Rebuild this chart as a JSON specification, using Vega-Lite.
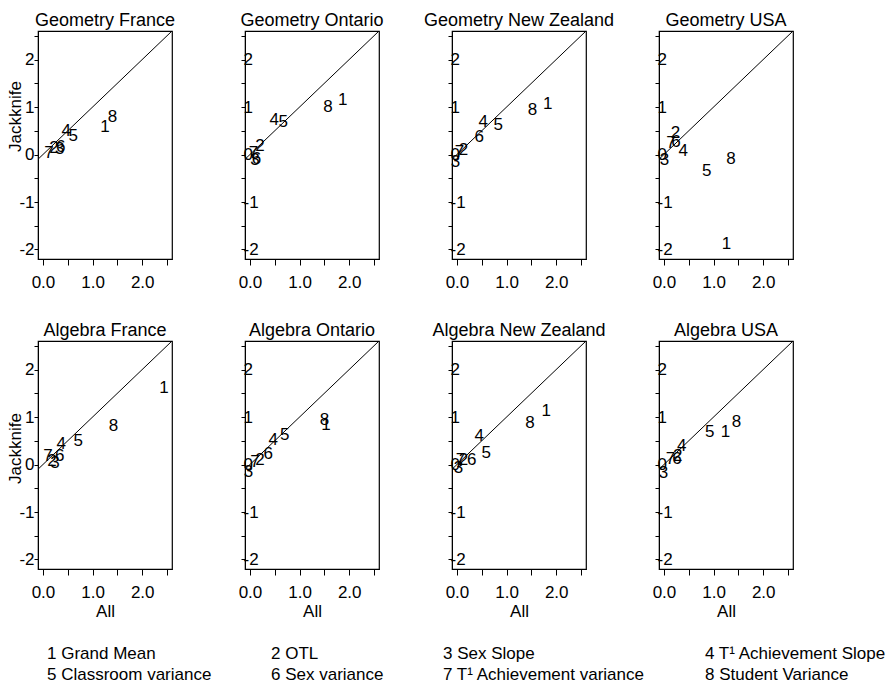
{
  "$schema": "https://vega.github.io/schema/vega-lite/v6.json",
  "padding": {"left": 5, "top": 11, "right": 0, "bottom": 0},
  "background": "white",
  "config": {
    "font": "Liberation Sans",
    "view": {"stroke": "black", "strokeWidth": 1.2},
    "axis": {"grid": false, "domainColor": "black", "tickColor": "black", "labelColor": "black", "titleColor": "black", "labelFontSize": 17, "titleFontSize": 17, "titleFontWeight": "normal", "labelFont": "Liberation Sans", "titleFont": "Liberation Sans", "labelOverlap": false, "labelFlush": false},
    "title": {"fontSize": 18, "fontWeight": "normal", "color": "black", "offset": -3, "font": "Liberation Sans", "anchor": "middle"},
    "text": {"fontSize": 17, "font": "Liberation Sans"},
    "legend": {"title": null, "orient": "none", "legendX": -8, "legendY": 614, "direction": "horizontal", "columns": 4, "symbolSize": 0, "symbolOpacity": 0, "symbolStrokeWidth": 0, "labelOffset": 0, "labelFontSize": 17, "labelColor": "black", "labelFont": "Liberation Sans", "columnPadding": 42, "rowPadding": 3, "labelLimit": 400}
  },
  "datasets": {
    "pts": [
      {"panel": "Geometry France", "k": "1", "comp": "1 Grand Mean", "x": 1.25, "y": 0.58},
      {"panel": "Geometry France", "k": "2", "comp": "2 OTL", "x": 0.22, "y": 0.14},
      {"panel": "Geometry France", "k": "3", "comp": "3 Sex Slope", "x": 0.34, "y": 0.12},
      {"panel": "Geometry France", "k": "4", "comp": "4 T¹ Achievement Slope", "x": 0.47, "y": 0.49},
      {"panel": "Geometry France", "k": "5", "comp": "5 Classroom variance", "x": 0.61, "y": 0.39},
      {"panel": "Geometry France", "k": "6", "comp": "6 Sex variance", "x": 0.36, "y": 0.16},
      {"panel": "Geometry France", "k": "7", "comp": "7 T¹ Achievement variance", "x": 0.12, "y": 0.04},
      {"panel": "Geometry France", "k": "8", "comp": "8 Student Variance", "x": 1.40, "y": 0.80},
      {"panel": "Geometry Ontario", "k": "1", "comp": "1 Grand Mean", "x": 1.87, "y": 1.15},
      {"panel": "Geometry Ontario", "k": "2", "comp": "2 OTL", "x": 0.20, "y": 0.17},
      {"panel": "Geometry Ontario", "k": "3", "comp": "3 Sex Slope", "x": 0.10, "y": -0.12},
      {"panel": "Geometry Ontario", "k": "4", "comp": "4 T¹ Achievement Slope", "x": 0.49, "y": 0.73},
      {"panel": "Geometry Ontario", "k": "5", "comp": "5 Classroom variance", "x": 0.67, "y": 0.69},
      {"panel": "Geometry Ontario", "k": "6", "comp": "6 Sex variance", "x": 0.13, "y": -0.10},
      {"panel": "Geometry Ontario", "k": "7", "comp": "7 T¹ Achievement variance", "x": 0.07, "y": 0.03},
      {"panel": "Geometry Ontario", "k": "8", "comp": "8 Student Variance", "x": 1.57, "y": 1.01},
      {"panel": "Geometry New Zealand", "k": "1", "comp": "1 Grand Mean", "x": 1.83, "y": 1.07},
      {"panel": "Geometry New Zealand", "k": "2", "comp": "2 OTL", "x": 0.13, "y": 0.09},
      {"panel": "Geometry New Zealand", "k": "3", "comp": "3 Sex Slope", "x": -0.03, "y": -0.16},
      {"panel": "Geometry New Zealand", "k": "4", "comp": "4 T¹ Achievement Slope", "x": 0.53, "y": 0.69},
      {"panel": "Geometry New Zealand", "k": "5", "comp": "5 Classroom variance", "x": 0.83, "y": 0.62},
      {"panel": "Geometry New Zealand", "k": "6", "comp": "6 Sex variance", "x": 0.45, "y": 0.37},
      {"panel": "Geometry New Zealand", "k": "7", "comp": "7 T¹ Achievement variance", "x": 0.05, "y": 0.05},
      {"panel": "Geometry New Zealand", "k": "8", "comp": "8 Student Variance", "x": 1.52, "y": 0.93},
      {"panel": "Geometry USA", "k": "1", "comp": "1 Grand Mean", "x": 1.26, "y": -1.89},
      {"panel": "Geometry USA", "k": "2", "comp": "2 OTL", "x": 0.23, "y": 0.45},
      {"panel": "Geometry USA", "k": "3", "comp": "3 Sex Slope", "x": 0.01, "y": -0.11},
      {"panel": "Geometry USA", "k": "4", "comp": "4 T¹ Achievement Slope", "x": 0.39, "y": 0.07},
      {"panel": "Geometry USA", "k": "5", "comp": "5 Classroom variance", "x": 0.86, "y": -0.34},
      {"panel": "Geometry USA", "k": "6", "comp": "6 Sex variance", "x": 0.24, "y": 0.26},
      {"panel": "Geometry USA", "k": "7", "comp": "7 T¹ Achievement variance", "x": 0.14, "y": 0.24},
      {"panel": "Geometry USA", "k": "8", "comp": "8 Student Variance", "x": 1.35, "y": -0.09},
      {"panel": "Algebra France", "k": "1", "comp": "1 Grand Mean", "x": 2.44, "y": 1.62},
      {"panel": "Algebra France", "k": "2", "comp": "2 OTL", "x": 0.18, "y": 0.08},
      {"panel": "Algebra France", "k": "3", "comp": "3 Sex Slope", "x": 0.24, "y": 0.04},
      {"panel": "Algebra France", "k": "4", "comp": "4 T¹ Achievement Slope", "x": 0.37, "y": 0.43},
      {"panel": "Algebra France", "k": "5", "comp": "5 Classroom variance", "x": 0.71, "y": 0.50},
      {"panel": "Algebra France", "k": "6", "comp": "6 Sex variance", "x": 0.34, "y": 0.17},
      {"panel": "Algebra France", "k": "7", "comp": "7 T¹ Achievement variance", "x": 0.10, "y": 0.17},
      {"panel": "Algebra France", "k": "8", "comp": "8 Student Variance", "x": 1.42, "y": 0.81},
      {"panel": "Algebra Ontario", "k": "1", "comp": "1 Grand Mean", "x": 1.53, "y": 0.83},
      {"panel": "Algebra Ontario", "k": "2", "comp": "2 OTL", "x": 0.20, "y": 0.09},
      {"panel": "Algebra Ontario", "k": "3", "comp": "3 Sex Slope", "x": -0.03, "y": -0.15},
      {"panel": "Algebra Ontario", "k": "4", "comp": "4 T¹ Achievement Slope", "x": 0.47, "y": 0.51},
      {"panel": "Algebra Ontario", "k": "5", "comp": "5 Classroom variance", "x": 0.70, "y": 0.62},
      {"panel": "Algebra Ontario", "k": "6", "comp": "6 Sex variance", "x": 0.37, "y": 0.23},
      {"panel": "Algebra Ontario", "k": "7", "comp": "7 T¹ Achievement variance", "x": 0.10, "y": 0.06},
      {"panel": "Algebra Ontario", "k": "8", "comp": "8 Student Variance", "x": 1.50, "y": 0.93},
      {"panel": "Algebra New Zealand", "k": "1", "comp": "1 Grand Mean", "x": 1.80, "y": 1.12},
      {"panel": "Algebra New Zealand", "k": "2", "comp": "2 OTL", "x": 0.13, "y": 0.10},
      {"panel": "Algebra New Zealand", "k": "3", "comp": "3 Sex Slope", "x": 0.03, "y": -0.08},
      {"panel": "Algebra New Zealand", "k": "4", "comp": "4 T¹ Achievement Slope", "x": 0.45, "y": 0.59},
      {"panel": "Algebra New Zealand", "k": "5", "comp": "5 Classroom variance", "x": 0.59, "y": 0.24},
      {"panel": "Algebra New Zealand", "k": "6", "comp": "6 Sex variance", "x": 0.30, "y": 0.10},
      {"panel": "Algebra New Zealand", "k": "7", "comp": "7 T¹ Achievement variance", "x": 0.07, "y": 0.10},
      {"panel": "Algebra New Zealand", "k": "8", "comp": "8 Student Variance", "x": 1.47, "y": 0.88},
      {"panel": "Algebra USA", "k": "1", "comp": "1 Grand Mean", "x": 1.24, "y": 0.68},
      {"panel": "Algebra USA", "k": "2", "comp": "2 OTL", "x": 0.28, "y": 0.17},
      {"panel": "Algebra USA", "k": "3", "comp": "3 Sex Slope", "x": -0.01, "y": -0.17},
      {"panel": "Algebra USA", "k": "4", "comp": "4 T¹ Achievement Slope", "x": 0.36, "y": 0.39},
      {"panel": "Algebra USA", "k": "5", "comp": "5 Classroom variance", "x": 0.92, "y": 0.68},
      {"panel": "Algebra USA", "k": "6", "comp": "6 Sex variance", "x": 0.26, "y": 0.12},
      {"panel": "Algebra USA", "k": "7", "comp": "7 T¹ Achievement variance", "x": 0.13, "y": 0.12},
      {"panel": "Algebra USA", "k": "8", "comp": "8 Student Variance", "x": 1.46, "y": 0.89}
    ]
  },
  "data": {"name": "pts"},
  "columns": 4,
  "spacing": {"row": 82, "column": 73},
  "bounds": "flush",
  "resolve": {"scale": {"color": "shared"}, "legend": {"color": "shared"}},
  "concat": [
    {
      "title": "Geometry France", "width": 134, "height": 228,
      "encoding": {
        "x": {"field": "x", "type": "quantitative", "scale": {"domain": [-0.1, 2.6], "nice": false, "zero": false}, "axis": {"values": [0, 0.5, 1, 1.5, 2, 2.5], "labelExpr": "datum.value % 1 === 0 ? format(datum.value, '.1f') : ''", "title": null, "tickSize": 6, "labelPadding": 9}},
        "y": {"field": "y", "type": "quantitative", "scale": {"domain": [-2.2, 2.6], "nice": false, "zero": false}, "axis": {"values": [-2, -1.5, -1, -0.5, 0, 0.5, 1, 1.5, 2, 2.5], "labelExpr": "datum.value % 1 === 0 ? '' + datum.value : ''", "title": "Jackknife", "titleX": -14, "titleY": 85, "tickSize": 4, "labelPadding": 0}}
      },
      "layer": [
        {"data": {"values": [{"x": -0.1, "y": -0.1, "x2": 2.6, "y2": 2.6}]}, "mark": {"type": "rule", "color": "black", "strokeWidth": 1}, "encoding": {"x2": {"field": "x2"}, "y2": {"field": "y2"}}},
        {"transform": [{"filter": "datum.panel === 'Geometry France'"}], "mark": {"type": "text", "fontSize": 17}, "encoding": {"text": {"field": "k"}, "color": {"field": "comp", "type": "nominal", "scale": {"domain": ["1 Grand Mean", "2 OTL", "3 Sex Slope", "4 T¹ Achievement Slope", "5 Classroom variance", "6 Sex variance", "7 T¹ Achievement variance", "8 Student Variance"], "range": ["black", "black", "black", "black", "black", "black", "black", "black"]}}}}
      ]
    },
    {
      "title": "Geometry Ontario", "width": 134, "height": 228,
      "encoding": {
        "x": {"field": "x", "type": "quantitative", "scale": {"domain": [-0.1, 2.6], "nice": false, "zero": false}, "axis": {"values": [0, 0.5, 1, 1.5, 2, 2.5], "labelExpr": "datum.value % 1 === 0 ? format(datum.value, '.1f') : ''", "title": null, "tickSize": 6, "labelPadding": 9}},
        "y": {"field": "y", "type": "quantitative", "scale": {"domain": [-2.2, 2.6], "nice": false, "zero": false}, "axis": {"values": [-2, -1.5, -1, -0.5, 0, 0.5, 1, 1.5, 2, 2.5], "labelExpr": "datum.value % 1 === 0 ? '' + datum.value : ''", "title": null, "tickSize": 4, "labelAlign": "left", "labelPadding": -2}}
      },
      "layer": [
        {"data": {"values": [{"x": -0.1, "y": -0.1, "x2": 2.6, "y2": 2.6}]}, "mark": {"type": "rule", "color": "black", "strokeWidth": 1}, "encoding": {"x2": {"field": "x2"}, "y2": {"field": "y2"}}},
        {"transform": [{"filter": "datum.panel === 'Geometry Ontario'"}], "mark": {"type": "text", "fontSize": 17}, "encoding": {"text": {"field": "k"}, "color": {"field": "comp", "type": "nominal", "scale": {"domain": ["1 Grand Mean", "2 OTL", "3 Sex Slope", "4 T¹ Achievement Slope", "5 Classroom variance", "6 Sex variance", "7 T¹ Achievement variance", "8 Student Variance"], "range": ["black", "black", "black", "black", "black", "black", "black", "black"]}}}}
      ]
    },
    {
      "title": "Geometry New Zealand", "width": 134, "height": 228,
      "encoding": {
        "x": {"field": "x", "type": "quantitative", "scale": {"domain": [-0.1, 2.6], "nice": false, "zero": false}, "axis": {"values": [0, 0.5, 1, 1.5, 2, 2.5], "labelExpr": "datum.value % 1 === 0 ? format(datum.value, '.1f') : ''", "title": null, "tickSize": 6, "labelPadding": 9}},
        "y": {"field": "y", "type": "quantitative", "scale": {"domain": [-2.2, 2.6], "nice": false, "zero": false}, "axis": {"values": [-2, -1.5, -1, -0.5, 0, 0.5, 1, 1.5, 2, 2.5], "labelExpr": "datum.value % 1 === 0 ? '' + datum.value : ''", "title": null, "tickSize": 4, "labelAlign": "left", "labelPadding": -2}}
      },
      "layer": [
        {"data": {"values": [{"x": -0.1, "y": -0.1, "x2": 2.6, "y2": 2.6}]}, "mark": {"type": "rule", "color": "black", "strokeWidth": 1}, "encoding": {"x2": {"field": "x2"}, "y2": {"field": "y2"}}},
        {"transform": [{"filter": "datum.panel === 'Geometry New Zealand'"}], "mark": {"type": "text", "fontSize": 17}, "encoding": {"text": {"field": "k"}, "color": {"field": "comp", "type": "nominal", "scale": {"domain": ["1 Grand Mean", "2 OTL", "3 Sex Slope", "4 T¹ Achievement Slope", "5 Classroom variance", "6 Sex variance", "7 T¹ Achievement variance", "8 Student Variance"], "range": ["black", "black", "black", "black", "black", "black", "black", "black"]}}}}
      ]
    },
    {
      "title": "Geometry USA", "width": 134, "height": 228,
      "encoding": {
        "x": {"field": "x", "type": "quantitative", "scale": {"domain": [-0.1, 2.6], "nice": false, "zero": false}, "axis": {"values": [0, 0.5, 1, 1.5, 2, 2.5], "labelExpr": "datum.value % 1 === 0 ? format(datum.value, '.1f') : ''", "title": null, "tickSize": 6, "labelPadding": 9}},
        "y": {"field": "y", "type": "quantitative", "scale": {"domain": [-2.2, 2.6], "nice": false, "zero": false}, "axis": {"values": [-2, -1.5, -1, -0.5, 0, 0.5, 1, 1.5, 2, 2.5], "labelExpr": "datum.value % 1 === 0 ? '' + datum.value : ''", "title": null, "tickSize": 4, "labelAlign": "left", "labelPadding": -2}}
      },
      "layer": [
        {"data": {"values": [{"x": -0.1, "y": -0.1, "x2": 2.6, "y2": 2.6}]}, "mark": {"type": "rule", "color": "black", "strokeWidth": 1}, "encoding": {"x2": {"field": "x2"}, "y2": {"field": "y2"}}},
        {"transform": [{"filter": "datum.panel === 'Geometry USA'"}], "mark": {"type": "text", "fontSize": 17}, "encoding": {"text": {"field": "k"}, "color": {"field": "comp", "type": "nominal", "scale": {"domain": ["1 Grand Mean", "2 OTL", "3 Sex Slope", "4 T¹ Achievement Slope", "5 Classroom variance", "6 Sex variance", "7 T¹ Achievement variance", "8 Student Variance"], "range": ["black", "black", "black", "black", "black", "black", "black", "black"]}}}}
      ]
    },
    {
      "title": "Algebra France", "width": 134, "height": 228,
      "encoding": {
        "x": {"field": "x", "type": "quantitative", "scale": {"domain": [-0.1, 2.6], "nice": false, "zero": false}, "axis": {"values": [0, 0.5, 1, 1.5, 2, 2.5], "labelExpr": "datum.value % 1 === 0 ? format(datum.value, '.1f') : ''", "title": "All", "titlePadding": 3, "tickSize": 6, "labelPadding": 9}},
        "y": {"field": "y", "type": "quantitative", "scale": {"domain": [-2.2, 2.6], "nice": false, "zero": false}, "axis": {"values": [-2, -1.5, -1, -0.5, 0, 0.5, 1, 1.5, 2, 2.5], "labelExpr": "datum.value % 1 === 0 ? '' + datum.value : ''", "title": "Jackknife", "titleX": -14, "titleY": 107, "tickSize": 4, "labelPadding": 0}}
      },
      "layer": [
        {"data": {"values": [{"x": -0.1, "y": -0.1, "x2": 2.6, "y2": 2.6}]}, "mark": {"type": "rule", "color": "black", "strokeWidth": 1}, "encoding": {"x2": {"field": "x2"}, "y2": {"field": "y2"}}},
        {"transform": [{"filter": "datum.panel === 'Algebra France'"}], "mark": {"type": "text", "fontSize": 17}, "encoding": {"text": {"field": "k"}, "color": {"field": "comp", "type": "nominal", "scale": {"domain": ["1 Grand Mean", "2 OTL", "3 Sex Slope", "4 T¹ Achievement Slope", "5 Classroom variance", "6 Sex variance", "7 T¹ Achievement variance", "8 Student Variance"], "range": ["black", "black", "black", "black", "black", "black", "black", "black"]}}}}
      ]
    },
    {
      "title": "Algebra Ontario", "width": 134, "height": 228,
      "encoding": {
        "x": {"field": "x", "type": "quantitative", "scale": {"domain": [-0.1, 2.6], "nice": false, "zero": false}, "axis": {"values": [0, 0.5, 1, 1.5, 2, 2.5], "labelExpr": "datum.value % 1 === 0 ? format(datum.value, '.1f') : ''", "title": "All", "titlePadding": 3, "tickSize": 6, "labelPadding": 9}},
        "y": {"field": "y", "type": "quantitative", "scale": {"domain": [-2.2, 2.6], "nice": false, "zero": false}, "axis": {"values": [-2, -1.5, -1, -0.5, 0, 0.5, 1, 1.5, 2, 2.5], "labelExpr": "datum.value % 1 === 0 ? '' + datum.value : ''", "title": null, "tickSize": 4, "labelAlign": "left", "labelPadding": -2}}
      },
      "layer": [
        {"data": {"values": [{"x": -0.1, "y": -0.1, "x2": 2.6, "y2": 2.6}]}, "mark": {"type": "rule", "color": "black", "strokeWidth": 1}, "encoding": {"x2": {"field": "x2"}, "y2": {"field": "y2"}}},
        {"transform": [{"filter": "datum.panel === 'Algebra Ontario'"}], "mark": {"type": "text", "fontSize": 17}, "encoding": {"text": {"field": "k"}, "color": {"field": "comp", "type": "nominal", "scale": {"domain": ["1 Grand Mean", "2 OTL", "3 Sex Slope", "4 T¹ Achievement Slope", "5 Classroom variance", "6 Sex variance", "7 T¹ Achievement variance", "8 Student Variance"], "range": ["black", "black", "black", "black", "black", "black", "black", "black"]}}}}
      ]
    },
    {
      "title": "Algebra New Zealand", "width": 134, "height": 228,
      "encoding": {
        "x": {"field": "x", "type": "quantitative", "scale": {"domain": [-0.1, 2.6], "nice": false, "zero": false}, "axis": {"values": [0, 0.5, 1, 1.5, 2, 2.5], "labelExpr": "datum.value % 1 === 0 ? format(datum.value, '.1f') : ''", "title": "All", "titlePadding": 3, "tickSize": 6, "labelPadding": 9}},
        "y": {"field": "y", "type": "quantitative", "scale": {"domain": [-2.2, 2.6], "nice": false, "zero": false}, "axis": {"values": [-2, -1.5, -1, -0.5, 0, 0.5, 1, 1.5, 2, 2.5], "labelExpr": "datum.value % 1 === 0 ? '' + datum.value : ''", "title": null, "tickSize": 4, "labelAlign": "left", "labelPadding": -2}}
      },
      "layer": [
        {"data": {"values": [{"x": -0.1, "y": -0.1, "x2": 2.6, "y2": 2.6}]}, "mark": {"type": "rule", "color": "black", "strokeWidth": 1}, "encoding": {"x2": {"field": "x2"}, "y2": {"field": "y2"}}},
        {"transform": [{"filter": "datum.panel === 'Algebra New Zealand'"}], "mark": {"type": "text", "fontSize": 17}, "encoding": {"text": {"field": "k"}, "color": {"field": "comp", "type": "nominal", "scale": {"domain": ["1 Grand Mean", "2 OTL", "3 Sex Slope", "4 T¹ Achievement Slope", "5 Classroom variance", "6 Sex variance", "7 T¹ Achievement variance", "8 Student Variance"], "range": ["black", "black", "black", "black", "black", "black", "black", "black"]}}}}
      ]
    },
    {
      "title": "Algebra USA", "width": 134, "height": 228,
      "encoding": {
        "x": {"field": "x", "type": "quantitative", "scale": {"domain": [-0.1, 2.6], "nice": false, "zero": false}, "axis": {"values": [0, 0.5, 1, 1.5, 2, 2.5], "labelExpr": "datum.value % 1 === 0 ? format(datum.value, '.1f') : ''", "title": "All", "titlePadding": 3, "tickSize": 6, "labelPadding": 9}},
        "y": {"field": "y", "type": "quantitative", "scale": {"domain": [-2.2, 2.6], "nice": false, "zero": false}, "axis": {"values": [-2, -1.5, -1, -0.5, 0, 0.5, 1, 1.5, 2, 2.5], "labelExpr": "datum.value % 1 === 0 ? '' + datum.value : ''", "title": null, "tickSize": 4, "labelAlign": "left", "labelPadding": -2}}
      },
      "layer": [
        {"data": {"values": [{"x": -0.1, "y": -0.1, "x2": 2.6, "y2": 2.6}]}, "mark": {"type": "rule", "color": "black", "strokeWidth": 1}, "encoding": {"x2": {"field": "x2"}, "y2": {"field": "y2"}}},
        {"transform": [{"filter": "datum.panel === 'Algebra USA'"}], "mark": {"type": "text", "fontSize": 17}, "encoding": {"text": {"field": "k"}, "color": {"field": "comp", "type": "nominal", "scale": {"domain": ["1 Grand Mean", "2 OTL", "3 Sex Slope", "4 T¹ Achievement Slope", "5 Classroom variance", "6 Sex variance", "7 T¹ Achievement variance", "8 Student Variance"], "range": ["black", "black", "black", "black", "black", "black", "black", "black"]}}}}
      ]
    }
  ]
}
